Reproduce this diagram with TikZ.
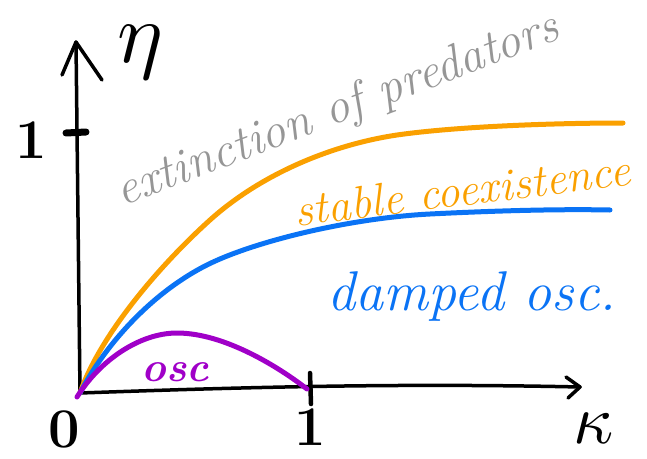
\documentclass[tikz,border=0pt]{standalone}
\usepackage{unicode-math}
\usetikzlibrary{calc}
\definecolor{cOrange}{RGB}{250,160,0}
\definecolor{cBlue}{RGB}{10,115,245}
\definecolor{cPurple}{RGB}{160,0,200}
\definecolor{cGray}{RGB}{150,150,150}
\tikzset{
  axis/.style={line width=3.5pt, line cap=round, line join=round, black},
  curve/.style={line width=5pt, line cap=round, line join=round},
  lbl/.style={inner sep=0pt},
}
\begin{document}
\begin{tikzpicture}[x=1pt,y=-1pt]
\useasboundingbox (0,0) rectangle (647,458);
% axes
\coordinate (O) at (80,393);
\coordinate (ytip) at (76,42);
\coordinate (xtip) at (580,387);
\draw[axis] (O) -- (ytip);
\draw[axis] (62,75) -- (ytip) -- (102,80);
\draw[axis] (O) .. controls (250,387) and (400,383) .. (xtip);
\draw[axis] (566,377) -- (xtip) -- (568,398);
% ticks
\coordinate (ytick) at (77,133);
\draw[line width=7pt, line cap=round] ($(ytick)+(-11,0)$) -- ($(ytick)+(9,-1)$);
\coordinate (xtick) at (310,387);
\draw[line width=4.5pt, line cap=round] ($(xtick)+(0,-14)$) -- ($(xtick)+(1,17)$);
% curves
\draw[curve, cOrange] (O) .. controls (100,335) and (160,265) .. (210,220)
  .. controls (260,175) and (330,145) .. (397,135)
  .. controls (460,126) and (560,123) .. (623,123);
\draw[curve, cBlue] (O) .. controls (105,345) and (150,295) .. (203,267)
  .. controls (250,242) and (350,218) .. (430,214)
  .. controls (500,210.5) and (560,209) .. (610,210);
\draw[curve, cPurple] (77,397) .. controls (100,360) and (140,333) .. (177,333)
  .. controls (225,333) and (280,368) .. (307,389);
% labels
\node[lbl, font=\fontsize{86}{86}\selectfont] (eta) at (140,53) {$\eta$};
\node[lbl, font=\bfseries\fontsize{56}{56}\selectfont] (one-y) at (31,140) {1};
\node[lbl, font=\bfseries\fontsize{56}{56}\selectfont] (zero) at (64,429) {0};
\node[lbl, font=\bfseries\fontsize{56}{56}\selectfont] (one-x) at (310,427) {1};
\node[lbl, font=\fontsize{70}{70}\selectfont] (kappa) at (594,428) {$\kappa$};
\node[lbl, cGray, rotate=21, font=\itshape\fontsize{49}{49}\selectfont] (ext) at (338,111) {extinction of predators};
\node[lbl, cOrange, rotate=7, font=\itshape\fontsize{46}{46}\selectfont] (stab) at (462,190) {stable coexistence};
\node[lbl, cBlue, font=\itshape\fontsize{56}{56}\selectfont] (damp) at (472,296) {damped osc.};
\node[lbl, cPurple, font=\itshape\bfseries\fontsize{42}{42}\selectfont] (osc) at (175,372) {osc};
\end{tikzpicture}
\end{document}
